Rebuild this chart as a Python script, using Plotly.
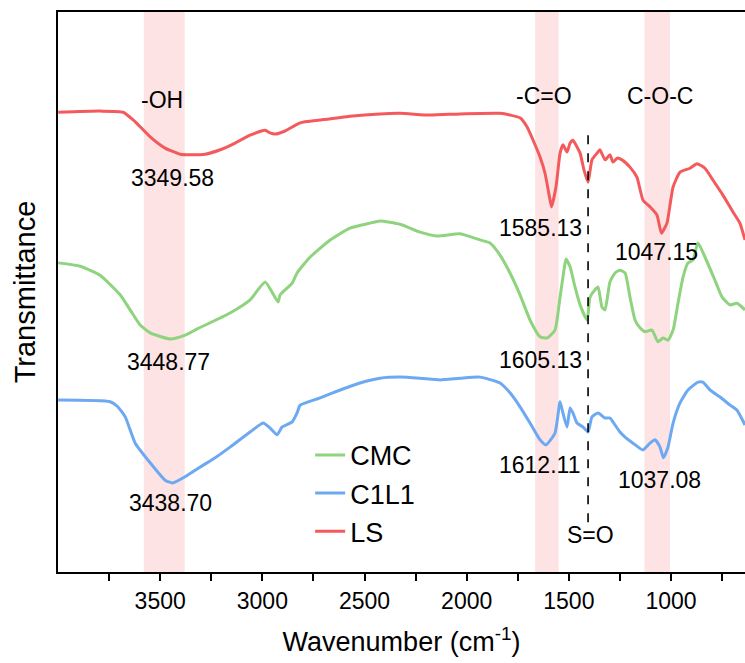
import plotly.graph_objects as go

# ---------------- data (wavenumber cm-1, transmittance a.u.) ----------------
ls_wn = [3999, 3794, 3681, 3622, 3549, 3476, 3402, 3350, 3280, 3206, 3133, 3060,
         2986, 2962, 2937, 2889, 2815, 2717, 2571, 2424, 2326, 2179, 2032, 1837,
         1788, 1739, 1705, 1675, 1641, 1617, 1595, 1585, 1563, 1543, 1529, 1509,
         1494, 1480, 1460, 1445, 1426, 1406, 1387, 1362, 1348, 1323, 1299, 1284,
         1264, 1240, 1201, 1167, 1137, 1103, 1069, 1047, 1020, 990, 956, 907,
         873, 834, 795, 746, 697, 663, 638]
ls_t = [82.1, 82.3, 82.1, 80.4, 77.7, 75.7, 74.6, 74.5, 74.6, 75.4, 76.6, 78.0,
        78.9, 78.4, 78.2, 78.75, 80.2, 80.7, 81.4, 81.8, 81.9, 81.6, 81.8, 81.9,
        81.6, 81.1, 79.5, 77.1, 74.1, 71.25, 67.0, 65.2, 68.75, 74.8, 76.3, 75.0,
        76.6, 77.1, 75.9, 74.8, 71.8, 69.6, 73.6, 74.8, 75.4, 73.6, 74.5, 73.2,
        73.9, 73.6, 72.3, 70.5, 66.4, 65.2, 63.75, 60.5, 62.3, 68.75, 71.4, 72.1,
        72.9, 72.1, 70.0, 67.3, 64.3, 62.3, 59.3]

cmc_wn = [3999, 3891, 3794, 3696, 3647, 3598, 3549, 3449, 3378, 3319, 3158, 3060,
          2986, 2923, 2913, 2854, 2830, 2766, 2668, 2571, 2473, 2424, 2326, 2228,
          2145, 2032, 1935, 1886, 1837, 1788, 1739, 1690, 1641, 1605, 1568, 1543,
          1524, 1514, 1494, 1470, 1445, 1411, 1396, 1372, 1357, 1338, 1323, 1299,
          1274, 1250, 1225, 1201, 1176, 1152, 1127, 1093, 1064, 1039, 1015, 990,
          966, 941, 917, 893, 868, 834, 785, 750, 711, 677, 638]
cmc_t = [55.2, 54.6, 53.0, 49.5, 46.8, 44.1, 42.7, 41.6, 42.3, 43.4, 46.25, 48.6,
         51.8, 48.2, 49.5, 51.6, 53.4, 56.25, 59.3, 61.4, 62.3, 62.7, 62.1, 60.7,
         60.0, 60.4, 59.3, 58.75, 56.6, 53.4, 49.5, 45.0, 42.0, 41.8, 43.2, 49.1,
         53.9, 55.9, 54.5, 50.9, 47.7, 45.0, 49.1, 50.4, 50.9, 47.3, 46.8, 51.8,
         53.4, 53.9, 53.4, 49.1, 45.0, 43.6, 42.9, 43.2, 41.1, 41.8, 41.4, 43.2,
         48.0, 52.7, 55.2, 55.7, 58.75, 56.25, 52.1, 49.1, 47.7, 48.0, 46.8]

c1l1_wn = [3999, 3745, 3710, 3671, 3622, 3549, 3476, 3439, 3378, 3304, 3231, 3158,
           3060, 2996, 2962, 2928, 2903, 2854, 2830, 2815, 2717, 2619, 2522, 2424,
           2326, 2228, 2130, 2032, 1935, 1837, 1788, 1739, 1690, 1641, 1612, 1568,
           1543, 1529, 1509, 1494, 1480, 1460, 1431, 1406, 1387, 1357, 1323, 1299,
           1274, 1250, 1225, 1186, 1137, 1103, 1078, 1054, 1037, 1015, 990, 956,
           917, 868, 844, 809, 760, 711, 677, 638]
c1l1_t = [30.7, 30.4, 29.6, 27.7, 23.0, 19.5, 16.4, 15.9, 17.0, 18.75, 20.4, 22.3,
          25.0, 26.6, 25.7, 24.5, 25.9, 26.8, 28.4, 29.8, 31.1, 32.5, 33.75, 34.6,
          34.8, 34.6, 34.3, 34.6, 34.8, 33.75, 32.0, 29.5, 26.6, 23.6, 22.7, 24.8,
          30.4, 28.4, 25.9, 29.3, 28.4, 26.6, 25.9, 25.0, 27.7, 28.4, 27.5, 27.5,
          26.25, 25.0, 24.1, 23.0, 21.8, 23.0, 23.6, 22.3, 20.4, 22.3, 26.6, 30.2,
          32.5, 33.9, 33.9, 32.5, 31.25, 29.8, 28.9, 26.25]

series_names = ["CMC", "C1L1", "LS"]
band_ranges = [(3580, 3380), (1665, 1550), (1130, 1005)]
band_labels = ["-OH", "-C=O", "C-O-C"]
peak_labels = ["3349.58", "1585.13", "1047.15", "3448.77", "1605.13",
               "3438.70", "1612.11", "1037.08"]
so_position = 1406
tick_values = [3500, 3000, 2500, 2000, 1500, 1000]
minor_tick_values = [3750, 3250, 2750, 2250, 1750, 1250, 750]

# ---------------- figure ----------------
RED, GREEN, BLUE = "#F45A5C", "#8ED37E", "#6DA9F2"
FONT = "Liberation Sans, Arial"
fig = go.Figure()
for name, wn, t, col in zip(series_names,
                            [cmc_wn, c1l1_wn, ls_wn],
                            [cmc_t, c1l1_t, ls_t],
                            [GREEN, BLUE, RED]):
    fig.add_trace(go.Scatter(x=wn, y=t, mode="lines", name=name,
                             line=dict(color=col, width=3, shape="spline", smoothing=0.5)))

for (a, b) in band_ranges:
    fig.add_shape(type="rect", xref="x", yref="paper", x0=a, x1=b, y0=0, y1=1,
                  fillcolor="#FDE3E3", line_width=0, layer="below")

fig.add_shape(type="line", xref="x", yref="y", x0=so_position, x1=so_position,
              y0=8.9, y1=79.5, line=dict(color="black", width=1.6, dash="dash"))

AF = dict(family=FONT, size=23, color="black")
label_pos = [(3490, 84.3), (1621, 85.0), (1054, 85.0)]
for txt, (x, y) in zip(band_labels, label_pos):
    fig.add_annotation(x=x, y=y, text=txt, showarrow=False, font=AF)
peak_pos = [(3441, 70.4), (1641, 61.4), (1069, 57.1), (3461, 37.5), (1641, 37.9),
            (3451, 12.3), (1646, 19.1), (1054, 16.4)]
for txt, (x, y) in zip(peak_labels, peak_pos):
    fig.add_annotation(x=x, y=y, text=txt, showarrow=False, font=AF)
fig.add_annotation(x=1396, y=6.6, text="S=O", showarrow=False, font=AF)

fig.update_layout(
    width=745, height=663,
    margin=dict(l=58, r=0, t=12, b=91),
    plot_bgcolor="white", paper_bgcolor="white",
    font=dict(family=FONT, color="black"),
    legend=dict(x=0.367, y=0.252, xanchor="left", yanchor="top",
                font=dict(size=27), bgcolor="rgba(0,0,0,0)", tracegroupgap=0),
    showlegend=True,
)
fig.update_xaxes(range=[4000, 638], showgrid=False, zeroline=False,
                 showline=True, linecolor="black", linewidth=2, mirror=True,
                 tickvals=tick_values, ticks="outside", ticklen=7, tickwidth=1.5,
                 tickcolor="black", tickfont=dict(size=23),
                 minor=dict(tickvals=minor_tick_values,
                            ticks="outside", ticklen=7, tickwidth=1.5, tickcolor="black"),
                 title=dict(text="Wavenumber (cm<sup>-1</sup>)", font=dict(size=27), standoff=20))
fig.update_yaxes(range=[0, 100], showgrid=False, zeroline=False, showticklabels=False,
                 ticks="", showline=True, linecolor="black", linewidth=2, mirror=False,
                 title=dict(text="Transmittance", font=dict(size=29), standoff=12))

fig.write_html("out.html")
